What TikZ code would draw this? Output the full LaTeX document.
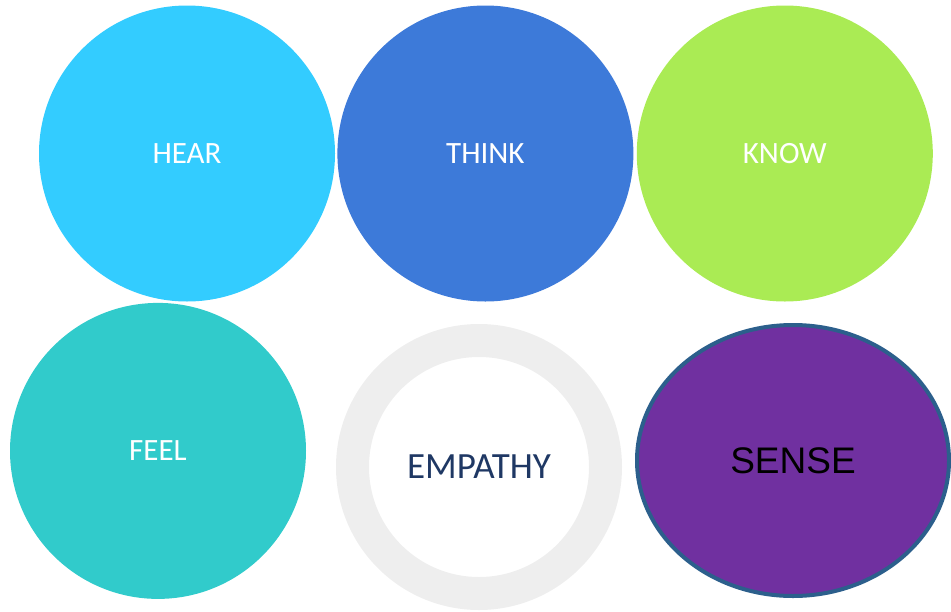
\documentclass[tikz,border=0pt]{standalone}
\usepackage{fontspec}
\setmainfont{Carlito}
\newfontfamily\arialfont{Liberation Sans}
\usepackage{xcolor}
\usetikzlibrary{positioning,shapes.geometric}

\definecolor{hearblue}{HTML}{33CCFF}
\definecolor{thinkblue}{HTML}{3D7AD9}
\definecolor{knowgreen}{HTML}{AAEB54}
\definecolor{feelteal}{HTML}{31CBCB}
\definecolor{ringgray}{HTML}{EEEEEE}
\definecolor{empathynavy}{HTML}{1F3864}
\definecolor{sensepurple}{HTML}{7030A0}
\definecolor{senseborder}{HTML}{2C5F8C}

\begin{document}
\begin{tikzpicture}[x=1pt, y=-1pt,
    blob/.style={circle, minimum size=296pt, inner sep=0pt, text=white, font=\fontsize{31}{34}\selectfont}]
    \useasboundingbox (0,0) rectangle (951,611);
    \node[blob, fill=hearblue] (hear) at (187,153.5) {HEAR};
    \node[blob, fill=thinkblue, right=2pt of hear] (think) {THINK};
    \node[blob, fill=knowgreen, right=3pt of think] (know) {KNOW};
    \node[blob, fill=feelteal, below=1pt of hear, xshift=-29pt] (feel) {FEEL};
    \node[circle, draw=ringgray, line width=33pt, minimum size=253pt, inner sep=0pt, text=empathynavy, font=\fontsize{37}{40}\selectfont] (empathy) at (479,467) {EMPATHY};
    \node[ellipse, draw=senseborder, fill=sensepurple, line width=4pt, minimum width=312pt, minimum height=271pt, inner sep=0pt, font=\arialfont\fontsize{37}{40}\selectfont] (sense) at (793,460.5) {SENSE};
\end{tikzpicture}
\end{document}
